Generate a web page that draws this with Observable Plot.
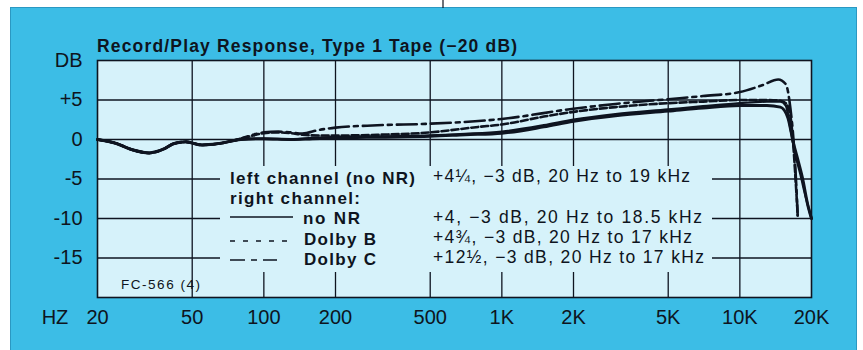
<!DOCTYPE html>
<html><head><meta charset="utf-8">
<script src="https://cdn.jsdelivr.net/npm/d3@7"></script>
<script src="https://cdn.jsdelivr.net/npm/@observablehq/plot@0.6"></script>
<style>
html,body{margin:0;padding:0;background:#fff;width:863px;height:350px;overflow:hidden;}
#wrap{position:relative;width:863px;height:350px;}
#panel{position:absolute;left:10px;top:7px;width:847px;height:350px;background:#3cbde6;border:1px solid #2b98c2;box-sizing:border-box;}
#chart{position:absolute;left:0;top:0;}
#over{position:absolute;left:0;top:0;pointer-events:none;}
</style></head><body>
<div id="wrap"><div id="panel"></div><div id="chart"></div><svg id="over" width="863" height="350"></svg></div>
<script>
// ---- data ----
const xTicks = [20, 50, 100, 200, 500, 1000, 2000, 5000, 10000, 20000];
const xTickLabels = ["20", "50", "100", "200", "500", "1K", "2K", "5K", "10K", "20K"];
const yTicks = [10, 5, 0, -5, -10, -15];
const yTickLabels = ["DB", "+5", "0", "-5", "-10", "-15"];
const xGrid = [50, 100, 200, 500, 1000, 2000, 5000, 10000];
const yGrid = [5, 0, -5, -10, -15];

const leftFreq = [20, 24, 28, 33, 38, 42, 47, 55, 65, 80, 100, 130, 160, 200, 300, 500, 700, 1000, 1500, 2000, 3000, 5000, 7000, 10000, 13000, 14800, 15900, 16800, 17500, 18300, 19400, 20000];
const leftDb   = [0, -0.5, -1.3, -1.7, -1.2, -0.5, -0.3, -0.7, -0.5, 0, 0.1, 0, 0.1, 0.2, 0.3, 0.4, 0.6, 0.8, 1.6, 2.3, 3.0, 3.6, 4.0, 4.3, 4.3, 4.1, 2.8, -0.5, -2.5, -4.8, -8.6, -10];

const rightFreq = [20, 24, 28, 33, 38, 42, 47, 55, 65, 80, 100, 130, 160, 200, 300, 500, 700, 1000, 1500, 2000, 3000, 5000, 7000, 10000, 13000, 14800, 15600, 16300, 17000, 18000, 19000, 20000];
const rightDb   = [0, -0.5, -1.3, -1.7, -1.2, -0.5, -0.3, -0.7, -0.5, 0, 0.1, 0, 0.2, 0.3, 0.4, 0.5, 0.7, 1.0, 1.8, 2.5, 3.2, 3.8, 4.2, 4.6, 4.8, 4.8, 4.3, 1.5, -1.5, -4.5, -7.5, -10];

const dolbyBFreq = [20, 24, 28, 33, 38, 42, 47, 55, 65, 80, 90, 100, 115, 130, 145, 170, 200, 300, 500, 800, 1000, 1500, 2000, 3000, 5000, 7000, 10000, 13000, 14800, 15600, 16300, 16800, 17100, 17500];
const dolbyBDb   = [0, -0.5, -1.3, -1.7, -1.2, -0.5, -0.3, -0.7, -0.5, 0.1, 0.5, 0.8, 0.9, 0.8, 0.6, 0.5, 0.5, 0.6, 0.9, 1.6, 1.9, 2.9, 3.5, 4.1, 4.6, 4.8, 5.0, 5.0, 4.9, 4.6, 3.0, -1.0, -4.5, -9.6];

const dolbyCFreq = [20, 24, 28, 33, 38, 42, 47, 55, 65, 80, 90, 100, 115, 130, 145, 170, 200, 300, 500, 1000, 2000, 3000, 5000, 7000, 10000, 12500, 14500, 15600, 16300, 16800, 17100, 17500];
const dolbyCDb   = [0, -0.5, -1.3, -1.7, -1.2, -0.5, -0.3, -0.7, -0.5, 0.1, 0.6, 0.9, 1.0, 0.9, 0.75, 1.2, 1.5, 1.8, 2.0, 2.6, 3.9, 4.5, 5.1, 5.5, 6.0, 6.9, 7.6, 7.0, 4.0, 0, -3.5, -9.6];

const titleText = "Record/Play Response, Type 1 Tape (\u221220 dB)";
const legendLeft = ["left channel (no NR)", "right channel:", "no NR", "Dolby B", "Dolby C"];
const legendRight = ["+4\u00BC, \u22123 dB, 20 Hz to 19 kHz", "+4, \u22123 dB, 20 Hz to 18.5 kHz", "+4\u00BE, \u22123 dB, 20 Hz to 17 kHz", "+12\u00BD, \u22123 dB, 20 Hz to 17 kHz"];
const xAxisName = "HZ";
const figCode = "FC-566 (4)";

// ---- styles ----
const ink = "#0e1420";
const plotBg = "#d6f2fa";
const font = "'Liberation Sans', Arial, Helvetica, sans-serif";

const toRows = (f, d) => f.map((v, i) => ({f: v, db: d[i]}));
const xLabelRows = xTicks.map((v, i) => ({f: v, label: xTickLabels[i]}));

const plot = Plot.plot({
  width: 863, height: 350,
  marginLeft: 97, marginRight: 52, marginTop: 60, marginBottom: 53,
  style: {background: "transparent", fontFamily: font, color: ink, overflow: "visible"},
  x: {type: "log", domain: [20, 20000], axis: null},
  y: {domain: [-20, 10], axis: null},
  marks: [
    Plot.frame({fill: plotBg, stroke: null}),
    Plot.ruleX(xGrid, {stroke: ink, strokeWidth: 1.3}),
    Plot.ruleY(yGrid, {stroke: ink, strokeWidth: 1.3}),
    Plot.frame({stroke: ink, strokeWidth: 1.6}),
    Plot.text(xLabelRows, {x: "f", text: "label", frameAnchor: "bottom", lineAnchor: "middle", dy: 20, fontSize: 20, fill: ink}),
    Plot.axisY({ticks: yTicks, tickFormat: d => yTickLabels[yTicks.indexOf(d)], tickSize: 0, tickPadding: 15, fontSize: 20, label: null, fill: ink}),
    Plot.line(toRows(dolbyCFreq, dolbyCDb), {x: "f", y: "db", stroke: ink, strokeWidth: 2.6, strokeDasharray: "20,5,4,5", curve: "monotone-x"}),
    Plot.line(toRows(dolbyBFreq, dolbyBDb), {x: "f", y: "db", stroke: ink, strokeWidth: 2.6, strokeDasharray: "7,3", curve: "monotone-x"}),
    Plot.line(toRows(rightFreq, rightDb), {x: "f", y: "db", stroke: ink, strokeWidth: 2.4, curve: "monotone-x"}),
    Plot.line(toRows(leftFreq, leftDb), {x: "f", y: "db", stroke: ink, strokeWidth: 3, curve: "monotone-x"})
  ]
});
document.getElementById("chart").appendChild(plot);

// ---- annotations overlay ----
const o = d3.select("#over");
o.append("line").attr("x1", 443).attr("x2", 443).attr("y1", 0).attr("y2", 8).attr("stroke", ink).attr("stroke-width", 1.2);
o.append("text").attr("x", 97).attr("y", 52).attr("font-family", font).attr("font-weight", "bold").attr("font-size", 17.5)
  .attr("fill", ink).attr("textLength", 420).attr("lengthAdjust", "spacing").text(titleText);
o.append("text").attr("x", 55).attr("y", 324).attr("text-anchor", "middle").attr("font-family", font).attr("font-size", 20)
  .attr("fill", ink).text(xAxisName);
o.append("text").attr("x", 121).attr("y", 289).attr("font-family", font).attr("font-size", 13.5)
  .attr("fill", ink).attr("textLength", 79).attr("lengthAdjust", "spacing").text(figCode);
// legend mask
o.append("rect").attr("x", 220).attr("y", 166).attr("width", 492).attr("height", 106).attr("fill", plotBg);
const lx = [230, 230, 303, 304, 304];
const lb = [184, 204, 224, 245, 265];
const lw = [185, 130, 57, 72, 72];
legendLeft.forEach((t, i) => {
  o.append("text").attr("x", lx[i]).attr("y", lb[i]).attr("font-family", font).attr("font-weight", "bold").attr("font-size", 17)
    .attr("fill", ink).attr("textLength", lw[i]).attr("lengthAdjust", "spacing").text(t);
});
const rb = [182, 223, 243, 263];
const rw = [257, 269, 259, 271];
legendRight.forEach((t, i) => {
  o.append("text").attr("x", 433).attr("y", rb[i]).attr("font-family", font).attr("font-size", 17.5)
    .attr("fill", ink).attr("textLength", rw[i]).attr("lengthAdjust", "spacing").text(t);
});
// legend samples
o.append("line").attr("x1", 230).attr("x2", 293).attr("y1", 217).attr("y2", 217).attr("stroke", ink).attr("stroke-width", 1.4);
o.append("line").attr("x1", 230).attr("x2", 288).attr("y1", 241).attr("y2", 241).attr("stroke", ink).attr("stroke-width", 1.4).attr("stroke-dasharray", "5,8");
o.append("line").attr("x1", 230).attr("x2", 277).attr("y1", 260).attr("y2", 260).attr("stroke", ink).attr("stroke-width", 1.6).attr("stroke-dasharray", "15,6,6,6");
</script>
</body></html>
